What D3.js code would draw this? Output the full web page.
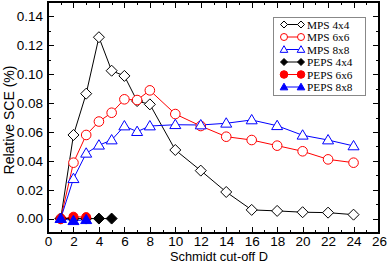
<!DOCTYPE html>
<html><head><meta charset="utf-8">
<script src="https://cdn.jsdelivr.net/npm/d3@7"></script>
<style>body{margin:0;background:#fff}svg{display:block}</style>
</head><body>
<svg id="c" width="388" height="262"></svg>
<script>
const mpsX = [1,2,3,4,5,6,7,8,10,12,14,16,18,20,22,24];
const mps4 = [0,0.0579,0.0865,0.1256,0.1024,0.0988,0.0814,0.0791,0.0475,0.0332,0.0184,0.0060,0.0053,0.0044,0.0041,0.0027];
const mps6 = [0,0.0387,0.0579,0.0672,0.0733,0.0826,0.0821,0.0888,0.0724,0.0641,0.0567,0.0544,0.0505,0.0466,0.0410,0.0387];
const mps8 = [0,0.0276,0.0452,0.0508,0.0544,0.0641,0.0602,0.0641,0.0650,0.0648,0.0660,0.0683,0.0643,0.0577,0.0544,0.0503];
const peps4X = [1,2,3,4,5];
const peps4 = [0,0,0,0,0];
const peps6X = [1,2,3];
const peps6 = [-0.0004,0.0013,0.0010];
const peps8X = [1,2,3];
const peps8 = [0,-0.0015,-0.0008];
const xTicks = [0,2,4,6,8,10,12,14,16,18,20,22,24,26];
const yTicks = [0,0.02,0.04,0.06,0.08,0.10,0.12,0.14];
const legendLabels = ["MPS 4x4","MPS 6x6","MPS 8x8","PEPS 4x4","PEPS 6x6","PEPS 8x8"];

const svg = d3.select("#c");
const L=48,R=379,T=2,B=233;
const x = d3.scaleLinear().domain([0,26]).range([L,R]);
const y = d3.scaleLinear().domain([-0.01,0.15]).range([B,T]);
const SANS = "Liberation Sans, Arial, Helvetica, sans-serif";

const series = [
 {xs:mpsX, ys:mps4, color:"#000", shape:"diamond", fill:false},
 {xs:mpsX, ys:mps6, color:"#ff0000", shape:"circle", fill:false},
 {xs:mpsX, ys:mps8, color:"#0000ff", shape:"triangle", fill:false},
 {xs:peps4X, ys:peps4, color:"#000", shape:"diamond", fill:true},
 {xs:peps6X, ys:peps6, color:"#ff0000", shape:"circle", fill:true},
 {xs:peps8X, ys:peps8, color:"#0000ff", shape:"triangle", fill:true}
];

function marker(g, shape, cx, cy, color, fill){
  const f = fill ? color : "white";
  if(shape==="diamond"){
    const r=5.5;
    g.append("path").attr("d",`M${cx},${cy-r}L${cx+r},${cy}L${cx},${cy+r}L${cx-r},${cy}Z`)
     .attr("fill",f).attr("stroke",color).attr("stroke-width",1);
  } else if(shape==="circle"){
    g.append("circle").attr("cx",cx).attr("cy",cy).attr("r",fill?4.5:4.8)
     .attr("fill",f).attr("stroke",color).attr("stroke-width",1);
  } else {
    const r=5.5;
    g.append("path").attr("d",`M${cx},${cy-r}L${cx+r},${cy+r*0.7}L${cx-r},${cy+r*0.7}Z`)
     .attr("fill",f).attr("stroke",color).attr("stroke-width",1);
  }
}

// ticks
const tg = svg.append("g").attr("stroke","#000").attr("stroke-width",1);
for(let v=0; v<=26; v++){
  const len = v%2===0 ? 6 : 3;
  const px = Math.round(x(v))+0.5;
  tg.append("line").attr("x1",px).attr("x2",px).attr("y1",B).attr("y2",B-len);
  tg.append("line").attr("x1",px).attr("x2",px).attr("y1",T).attr("y2",T+len);
}
for(let i=-1; i<=15; i++){
  const v=i/100;
  const len = (i%2===0) ? 6 : 3;
  const py = Math.round(y(v))+0.5;
  tg.append("line").attr("x1",L).attr("x2",L+len).attr("y1",py).attr("y2",py);
  tg.append("line").attr("x1",R).attr("x2",R-len).attr("y1",py).attr("y2",py);
}

// axes labels
const xa = svg.append("g").attr("transform",`translate(0,${B})`)
  .call(d3.axisBottom(x).tickValues(xTicks).tickSize(0).tickPadding(3).tickFormat(d3.format("d")));
xa.select(".domain").remove();
xa.selectAll("text").attr("font-family",SANS).attr("font-size",13.5).attr("fill","#000");
const ya = svg.append("g").attr("transform",`translate(${L},0)`)
  .call(d3.axisLeft(y).tickValues(yTicks).tickSize(0).tickPadding(5).tickFormat(d3.format(".2f")));
ya.select(".domain").remove();
ya.selectAll("text").attr("font-family",SANS).attr("font-size",13.5).attr("fill","#000");

svg.append("text").attr("x",219).attr("y",260.5).attr("text-anchor","middle")
  .attr("font-family",SANS).attr("font-size",12.8).text("Schmidt cut-off D");
svg.append("text").attr("transform",`translate(13.5,120) rotate(-90)`).attr("text-anchor","middle")
  .attr("font-family",SANS).attr("font-size",14).text("Relative SCE (%)");

// series
const line = d3.line();
series.forEach(s=>{
  const pts = s.xs.map((v,i)=>[x(v), y(s.ys[i])]);
  svg.append("path").attr("d",line(pts)).attr("fill","none").attr("stroke",s.color).attr("stroke-width",1);
});
series.forEach(s=>{
  const g = svg.append("g");
  s.xs.forEach((v,i)=>marker(g, s.shape, x(v), y(s.ys[i]), s.color, s.fill));
});

// frame
svg.append("rect").attr("x",L).attr("y",T).attr("width",R-L).attr("height",B-T)
  .attr("fill","none").attr("stroke","#000").attr("stroke-width",2);

// legend
const lg = svg.append("g");
lg.append("rect").attr("x",273.5).attr("y",17.5).attr("width",92).attr("height",78)
  .attr("fill","white").attr("stroke","#888").attr("stroke-width",1);
legendLabels.forEach((lab,i)=>{
  const s = series[i];
  const cy = 24.5 + i*12.5;
  lg.append("line").attr("x1",284).attr("x2",301).attr("y1",cy).attr("y2",cy).attr("stroke",s.color).attr("stroke-width",1);
  const gg = lg.append("g");
  [284,301].forEach(cx=>{
    if(s.shape==="diamond"){
      const r=3.5;
      gg.append("path").attr("d",`M${cx},${cy-r}L${cx+r},${cy}L${cx},${cy+r}L${cx-r},${cy}Z`).attr("fill",s.fill?s.color:"white").attr("stroke",s.color);
    } else if(s.shape==="circle"){
      gg.append("circle").attr("cx",cx).attr("cy",cy).attr("r",s.fill?3.8:3.5).attr("fill",s.fill?s.color:"white").attr("stroke",s.color);
    } else {
      const r=3.8;
      gg.append("path").attr("d",`M${cx},${cy-r}L${cx+r},${cy+r*0.75}L${cx-r},${cy+r*0.75}Z`).attr("fill",s.fill?s.color:"white").attr("stroke",s.color);
    }
  });
  lg.append("text").attr("x",307).attr("y",cy+4).attr("font-family","Liberation Serif, Times New Roman, serif")
    .attr("font-size",11.3).attr("fill","#000").text(lab);
});
</script>
</body></html>
